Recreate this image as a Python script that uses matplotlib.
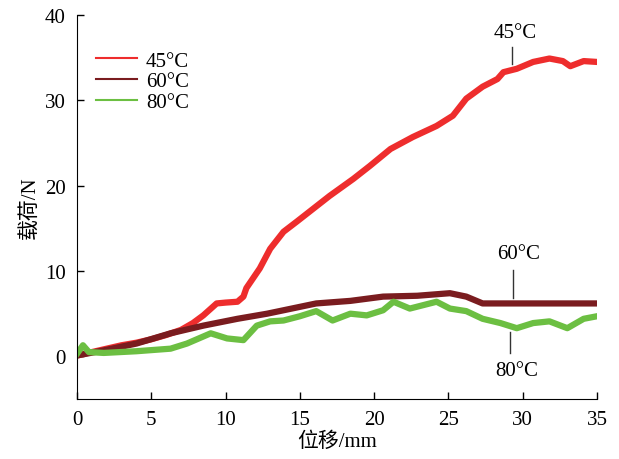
import matplotlib
matplotlib.use('Agg')
import matplotlib.pyplot as plt

# data (displacement mm, load N)
x45 = [0, 1, 2, 3, 4, 5, 6, 7, 7.8, 8.5, 9.4, 10.0, 10.8, 11.2, 11.4, 12.3, 13.0, 13.9,
       14.8, 15.9, 17.0, 18.6, 19.7, 21.1, 22.6, 24.2, 25.3, 26.2, 27.3, 28.3, 28.7,
       29.6, 30.7, 31.8, 32.7, 33.2, 34.1, 35.0]
y45 = [0.1, 0.5, 0.9, 1.3, 1.6, 2.0, 2.5, 3.1, 3.9, 4.8, 6.2, 6.3, 6.4, 7.0, 8.0, 10.3,
       12.6, 14.6, 15.8, 17.3, 18.8, 20.8, 22.3, 24.3, 25.7, 27.0, 28.2, 30.2, 31.6,
       32.5, 33.3, 33.7, 34.5, 34.9, 34.6, 34.0, 34.6, 34.5]

x60 = [0, 1.8, 4.0, 6.3, 8.5, 10.8, 12.8, 13.9, 16.1, 18.4, 20.6, 22.9, 25.1, 26.2,
       27.3, 29.6, 31.8, 35.0]
y60 = [0.1, 0.7, 1.5, 2.7, 3.6, 4.4, 5.0, 5.4, 6.2, 6.5, 7.0, 7.1, 7.4, 7.0,
       6.2, 6.2, 6.2, 6.2]

x80 = [0, 0.4, 0.8, 1.8, 4.0, 6.3, 7.4, 9.0, 10.1, 11.2, 12.1, 13.0, 13.9, 15.0,
       16.1, 17.2, 18.4, 19.5, 20.6, 21.3, 22.4, 24.2, 25.1, 26.2, 27.3, 28.5, 29.6,
       30.7, 31.8, 33.0, 34.1, 35.0]
y80 = [0.3, 1.3, 0.5, 0.4, 0.6, 0.9, 1.5, 2.7, 2.1, 1.9, 3.6, 4.1, 4.2, 4.7,
       5.3, 4.2, 5.0, 4.8, 5.4, 6.4, 5.6, 6.4, 5.6, 5.3, 4.4, 3.9, 3.3,
       3.9, 4.1, 3.3, 4.4, 4.7]

labels = ['45°C', '60°C', '80°C']
colors = ['#EE2D2D', '#7A1C1F', '#6CBF42']

fam = ['Liberation Serif', 'Noto Sans CJK SC']
plt.rcParams['font.family'] = fam
plt.rcParams['font.size'] = 15

fig = plt.figure(figsize=(6.19, 4.6), dpi=100)
ax = fig.add_axes([0.1244, 0.1304, 0.8401, 0.8348])

ax.plot(x45, y45, color=colors[0], lw=4.5, label=labels[0], solid_joinstyle='round')
ax.plot(x60, y60, color=colors[1], lw=4.5, label=labels[1], solid_joinstyle='round')
ax.plot(x80, y80, color=colors[2], lw=4.5, label=labels[2], solid_joinstyle='round')

ax.set_xlim(0, 35)
ax.set_ylim(-5, 40)
ax.set_xticks(range(0, 36, 5))
ax.set_yticks(range(0, 41, 10))
ax.spines['top'].set_visible(False)
ax.spines['right'].set_visible(False)
ax.tick_params(direction='in', length=5, width=1, labelsize=15, pad=8)
ax.set_xlabel('位移/mm', fontsize=15, labelpad=2)
ax.set_ylabel('载荷/N', fontsize=15, labelpad=4)

leg = ax.legend(loc='upper left', bbox_to_anchor=(0.0, 0.955), frameon=False,
                fontsize=15, handlelength=2.0, labelspacing=0.05, handletextpad=0.4)
for h in leg.get_lines():
    h.set_linewidth(1.5)

# annotations
ax.plot([29.3, 29.3], [34.3, 36.3], color='#333333', lw=1)
ax.text(29.5, 38.0, '45°C', ha='center', va='center', fontsize=15)
ax.plot([29.35, 29.35], [6.8, 10.1], color='#333333', lw=1)
ax.text(29.7, 12.0, '60°C', ha='center', va='center', fontsize=15)
ax.plot([29.15, 29.15], [0.35, 2.9], color='#333333', lw=1)
ax.text(29.6, -1.6, '80°C', ha='center', va='center', fontsize=15)

fig.savefig('out.png', dpi=100)
